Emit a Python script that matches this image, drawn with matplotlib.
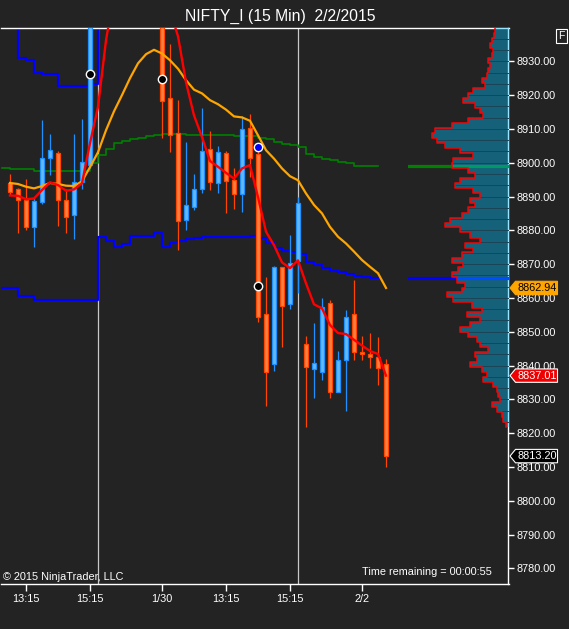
import numpy as np
import matplotlib
matplotlib.use('Agg')
import matplotlib.pyplot as plt
from matplotlib.patches import Polygon

plt.rcParams['font.family'] = ['Liberation Sans', 'DejaVu Sans']

BG = '#232323'
title = 'NIFTY_I (15 Min)  2/2/2015'

# ---------------- candle data (bar index 0..47) ----------------
opens = [8893.9, 8892.1, 8889.1, 8880.9, 8888.3, 8901.3, 8903.0, 8889.1, 8884.4, 8894.3,
         8899.3, 8958.0, 8970.0, 8982.0, 8976.0, 8985.0, 8979.0, 8965.0, 8960.0, 8955.0,
         8919.0, 8908.9, 8883.0, 8886.8, 8892.1, 8904.2, 8893.9, 8903.0, 8894.8, 8890.6,
         8910.4, 8902.5, 8855.2, 8840.3, 8869.1, 8858.1, 8870.9, 8846.3, 8839.1, 8838.2,
         8858.4, 8832.3, 8841.6, 8855.2, 8844.1, 8843.4, 8842.5, 8840.4]
highs = [8896.8, 8892.4, 8895.1, 8889.9, 8912.6, 8908.4, 8903.4, 8892.1, 8908.6, 8912.9,
         8962.0, 8975.0, 8988.0, 8995.0, 8990.0, 8998.0, 8986.0, 8972.0, 8966.0, 8958.0,
         8935.2, 8918.5, 8906.0, 8896.6, 8916.3, 8909.3, 8904.9, 8903.4, 8898.5, 8913.8,
         8914.3, 8903.5, 8866.1, 8869.4, 8869.2, 8878.6, 8889.9, 8848.8, 8852.5, 8859.9,
         8859.4, 8844.3, 8856.4, 8865.3, 8848.8, 8849.6, 8848.5, 8841.9]
lows = [8890.4, 8879.1, 8880.1, 8875.1, 8887.8, 8896.3, 8881.3, 8879.3, 8877.3, 8892.1,
        8898.5, 8950.0, 8962.0, 8972.0, 8965.0, 8975.0, 8960.0, 8952.0, 8948.0, 8907.2,
        8903.2, 8874.2, 8880.1, 8886.0, 8890.9, 8891.9, 8890.9, 8885.2, 8886.3, 8885.5,
        8895.8, 8853.0, 8827.9, 8838.5, 8845.6, 8856.7, 8861.4, 8821.7, 8830.5, 8835.6,
        8830.5, 8832.3, 8826.4, 8841.7, 8841.5, 8839.4, 8834.1, 8809.9]
closes = [8891.2, 8889.1, 8880.9, 8888.7, 8901.5, 8903.7, 8888.9, 8884.0, 8894.3, 8900.3,
          8958.0, 8970.0, 8982.0, 8976.0, 8985.0, 8979.0, 8965.0, 8960.0, 8955.0, 8918.4,
          8908.3, 8882.7, 8887.5, 8892.1, 8903.4, 8894.2, 8903.2, 8894.6, 8890.6, 8910.1,
          8901.3, 8854.3, 8838.2, 8869.1, 8857.7, 8870.2, 8888.0, 8839.7, 8840.7, 8857.2,
          8832.3, 8841.6, 8854.3, 8844.1, 8843.4, 8842.5, 8839.4, 8813.20]

# ---------------- indicator lines ----------------
red_line = [8890.3, 8890.2, 8889.2, 8889.4, 8891.9, 8894.2, 8893.4, 8891.7, 8892.1, 8893.9,
            8905.8, 8916.5, 8936.2, 8950.0, 8962.0, 8970.0, 8973.0, 8970.0, 8963.0, 8954.0,
            8945.0, 8937.4, 8923.8, 8914.0, 8907.6, 8900.5, 8898.8, 8897.0, 8895.3, 8898.3,
            8899.3, 8889.8, 8879.6, 8875.6, 8870.5, 8868.8, 8871.1, 8864.3, 8858.1, 8856.9,
            8852.0, 8849.6, 8849.3, 8847.6, 8845.9, 8844.3, 8843.4, 8837.01]
orange_line = [8894.0, 8893.7, 8892.9, 8892.4, 8893.1, 8894.0, 8893.7, 8893.2, 8893.1, 8894.5,
               8898.7, 8903.1, 8909.6, 8915.2, 8920.0, 8925.0, 8929.4, 8932.1, 8933.4, 8932.3,
               8930.3, 8927.8, 8924.4, 8921.6, 8920.5, 8918.5, 8917.3, 8915.7, 8913.7, 8913.4,
               8912.4, 8908.1, 8903.7, 8901.2, 8898.3, 8896.0, 8894.8, 8890.9, 8887.5, 8885.0,
               8881.0, 8878.1, 8876.1, 8873.7, 8871.2, 8869.2, 8867.3, 8862.94]
# step lines start one bar before the first candle (index -1)
green_step = [8898.3, 8898.0, 8898.0, 8898.0, 8897.6, 8897.6, 8897.6, 8897.6, 8897.6, 8897.6,
              8897.6, 8899.8, 8902.4, 8904.2, 8905.7, 8906.4, 8907.0, 8907.3, 8907.8, 8908.3,
              8908.4, 8908.4, 8908.4, 8908.1, 8908.1, 8908.1, 8908.1, 8908.1, 8908.1, 8907.8,
              8907.8, 8907.8, 8907.3, 8906.9, 8906.0, 8905.5, 8905.2, 8904.7, 8902.5, 8901.7,
              8901.2, 8900.8, 8900.3, 8899.8, 8899.0, 8899.0, 8899.0, 8899.0]
blue_low_step = [8862.9, 8862.9, 8860.6, 8860.6, 8859.4, 8859.4, 8859.4, 8859.4, 8859.4, 8859.4,
                 8859.4, 8859.4, 8878.1, 8876.9, 8875.1, 8875.8, 8878.4, 8878.4, 8878.4, 8879.1,
                 8875.1, 8876.1, 8876.9, 8877.3, 8877.6, 8877.9, 8877.9, 8877.9, 8878.1, 8878.1,
                 8878.1, 8878.4, 8877.6, 8876.1, 8874.7, 8874.0, 8873.5, 8873.0, 8870.5, 8869.7,
                 8868.8, 8868.0, 8867.6, 8867.1, 8866.5, 8866.1, 8865.8, 8865.8]
blue_high_step = [8948.0, 8948.0, 8930.9, 8930.4, 8926.4, 8926.1, 8926.1, 8922.6, 8922.6, 8922.6,
                  8922.6, 8923.4, 8948.0]

black_dot_bars = [10, 19, 31]
black_dot_prices = [8926.1, 8924.9, 8863.6]
blue_dot_bars = [31]
blue_dot_prices = [8904.5]

session_breaks = [11, 36]

# ---------------- volume profile ----------------
prof_price = [8939.2, 8937.7, 8936.2, 8934.8, 8933.3, 8931.8, 8930.3, 8928.9, 8927.4, 8925.9,
              8924.4, 8922.9, 8921.4, 8920.0, 8918.5, 8917.0, 8915.5, 8914.0, 8912.6, 8911.1,
              8909.6, 8908.1, 8906.7, 8905.2, 8903.7, 8902.2, 8900.8, 8899.3, 8897.8, 8896.3,
              8894.8, 8893.4, 8891.9, 8890.4, 8888.9, 8887.5, 8886.0, 8884.5, 8883.0, 8881.6,
              8880.1, 8878.6, 8877.1, 8875.6, 8874.2, 8872.7, 8871.2, 8869.7, 8868.3, 8866.8,
              8865.3, 8863.8, 8862.3, 8860.9, 8859.4, 8857.9, 8856.4, 8855.0, 8853.5, 8852.0,
              8850.5, 8849.1, 8847.6, 8846.1, 8844.6, 8843.1, 8841.7, 8840.2, 8838.7, 8837.2,
              8835.8, 8834.3, 8832.8, 8831.3, 8829.9, 8828.4, 8826.9, 8825.4, 8823.9, 8822.5]
prof_vol = [14, 15, 17, 19, 16, 17, 21, 19, 21, 22,
            27, 24, 36, 41, 46, 34, 29, 26, 41, 57,
            74, 77, 72, 64, 49, 36, 56, 57, 41, 34,
            49, 54, 36, 29, 39, 34, 41, 47, 59, 64,
            49, 39, 29, 44, 36, 47, 57, 46, 51, 57,
            52, 44, 47, 62, 56, 37, 27, 42, 29, 39,
            49, 41, 32, 29, 21, 34, 32, 39, 27, 22,
            26, 16, 12, 11, 9, 17, 12, 7, 6, 3]

# ---------------- axis labels ----------------
x_tick_pos = [2, 10, 19, 27, 35, 44]
x_tick_labels = ['13:15', '15:15', '1/30', '13:15', '15:15', '2/2']
y_ticks = [8780, 8790, 8800, 8810, 8820, 8830, 8840, 8850, 8860, 8870, 8880, 8890,
           8900, 8910, 8920, 8930]

# =================================================================
W, H = 569, 629
fig = plt.figure(figsize=(W / 100, H / 100), dpi=100, facecolor=BG)

top_px, bot_px, left_px, right_px = 28, 584, 1, 508.5
ax = fig.add_axes([left_px / W, (H - bot_px) / H, (right_px - left_px) / W,
                   (bot_px - top_px) / H], facecolor=BG)
YMIN, YMAX = 8775.36, 8939.85
ax.set_xlim(-1.125, 62.31)
ax.set_ylim(YMIN, YMAX)

o = np.array(opens); c = np.array(closes); hi = np.array(highs); lo = np.array(lows)
xb = np.arange(len(o))

for s in session_breaks:
    ax.axvline(s, color='#c8c8c8', lw=0.9, zorder=1)

ax.plot(np.arange(-1, len(green_step) - 1), green_step, drawstyle='steps-post',
        color='#008000', lw=1.2, zorder=2)
ax.plot(np.arange(-1, len(blue_low_step) - 1), blue_low_step, drawstyle='steps-post',
        color='#0000ff', lw=1.6, zorder=2)
ax.plot(np.arange(-1, len(blue_high_step) - 1), blue_high_step, drawstyle='steps-post',
        color='#0000ff', lw=1.6, zorder=2)

up = c >= o
edge_cols = np.where(up, '#1e90ff', '#ff4500')
fill_cols = np.where(up, '#66b8f2', '#ff8040')
ax.vlines(xb, lo, hi, colors=edge_cols, lw=0.9, zorder=3)
ax.bar(xb, np.abs(c - o), bottom=np.minimum(o, c), width=0.5, color=fill_cols,
       edgecolor=edge_cols, linewidth=0.9, zorder=4)

ax.plot(xb, orange_line, color='#ffa500', lw=1.6, zorder=5, solid_joinstyle='round')
ax.plot(xb, red_line, color='#ff0000', lw=1.7, zorder=6, solid_joinstyle='round')

ax.plot(black_dot_bars, black_dot_prices, 'o', ms=6, mfc='black', mec='white', mew=1.0,
        zorder=8)
ax.plot(blue_dot_bars, blue_dot_prices, 'o', ms=6, mfc='#0000ff', mec='white', mew=1.0,
        zorder=8)

# axes styling
ax.spines['left'].set_visible(False)
for sp in ['top', 'right', 'bottom']:
    ax.spines[sp].set_color('white')
    ax.spines[sp].set_linewidth(1.0)
ax.yaxis.tick_right()
ax.set_yticks(y_ticks)
ax.set_yticklabels([f'{v:.2f}' for v in y_ticks])
ax.set_xticks(x_tick_pos)
ax.set_xticklabels(x_tick_labels)
ax.tick_params(axis='y', colors='white', length=4, width=1, pad=2, labelsize=7.8)
ax.tick_params(axis='x', colors='white', length=5, width=1, pad=2, labelsize=7.8)

# ---------------- volume profile axes ----------------
pl_px = 408
axp = fig.add_axes([pl_px / W, (H - bot_px) / H, (right_px - pl_px) / W,
                    (bot_px - top_px) / H])
axp.patch.set_alpha(0)
axp.set_xlim(right_px - pl_px, 0)
axp.set_ylim(YMIN, YMAX)
axp.axis('off')

pp = np.array(prof_price); pv = np.array(prof_vol, dtype=float)
mids = (pp[:-1] + pp[1:]) / 2
tops = np.concatenate([[pp[0] + 0.74], mids])
bots = np.concatenate([mids, [pp[-1] - 0.74]])
ys = np.ravel(np.column_stack([tops, bots]))
xs = np.repeat(pv, 2)

axp.axhline(green_step[-1], color='#008000', lw=2.3, zorder=1)
axp.axhline(blue_low_step[-1], color='#0000ff', lw=2.3, zorder=1)
axp.fill_betweenx(ys, 0, xs, color='#00bfff', alpha=0.4, lw=0, zorder=2)
for s in np.arange(8823.333, 8940, 10 / 3):
    k = int(np.argmin(np.abs(pp - s)))
    axp.plot([0, pv[k]], [s, s], color='#1b4556', lw=0.7, zorder=3)
axp.plot(xs, ys, color='#ff0000', lw=1.1, zorder=4)

# ---------------- price tags on right axis ----------------
def price_tag(val, fc, ec, tc):
    yd = ax.transData.transform((0, val))[1]
    yf = fig.transFigure.inverted().transform((0, yd))[1]
    h = 6.7 / H
    x0, x1, x2 = 510 / W, 515.5 / W, 557.5 / W
    poly = Polygon([(x0, yf), (x1, yf + h), (x2, yf + h), (x2, yf - h), (x1, yf - h)],
                   closed=True, transform=fig.transFigure, fc=fc, ec=ec, lw=0.8,
                   zorder=10)
    fig.add_artist(poly)
    fig.text((x1 + x2) / 2 + 0.5 / W, yf, f'{val:.2f}', ha='center', va='center',
             color=tc, fontsize=7.8, zorder=11)

price_tag(orange_line[-1], '#ffa500', '#ffa500', 'black')
price_tag(red_line[-1], '#f00000', 'white', 'white')
price_tag(closes[-1], 'black', 'white', 'white')

# ---------------- texts ----------------
fig.text(280.7 / W, 1 - 21 / H, title, ha='center', va='baseline', color='white',
         fontsize=11.3)
fig.text(561.5 / W, 1 - 35.7 / H, 'F', ha='center', va='center', color='white',
         fontsize=7.5, bbox=dict(boxstyle='square,pad=0.18', fc=BG, ec='white', lw=0.8))
fig.text(3 / W, 1 - 577 / H, '\u00a9 2015 NinjaTrader, LLC', ha='left', va='center',
         color='white', fontsize=7.8)
fig.text(492 / W, 1 - 572 / H, 'Time remaining = 00:00:55', ha='right', va='center',
         color='white', fontsize=7.8)

fig.savefig('out.png', dpi=100, facecolor=BG)
